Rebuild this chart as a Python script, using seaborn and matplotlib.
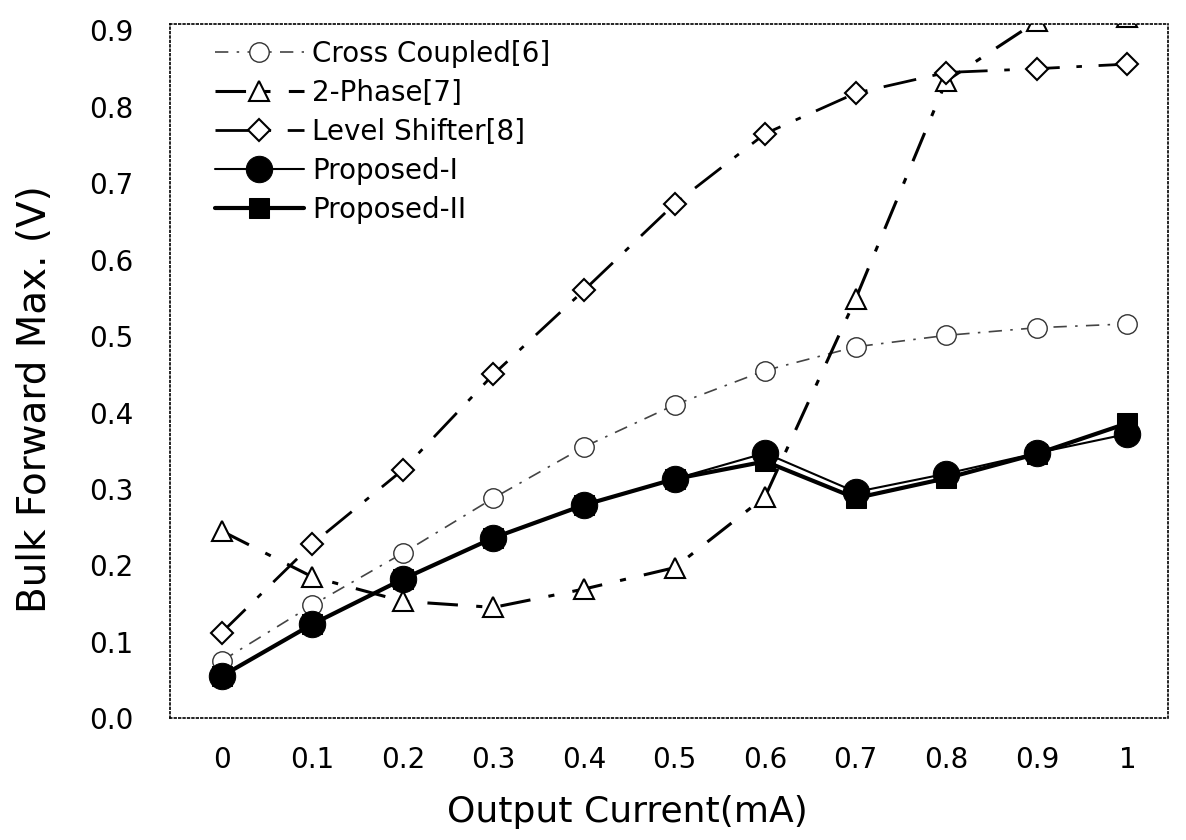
import numpy as np
import pandas as pd
import matplotlib
matplotlib.use("Agg")
import matplotlib.pyplot as plt
import seaborn as sns

# values
current = [0, 0.1, 0.2, 0.3, 0.4, 0.5, 0.6, 0.7, 0.8, 0.9, 1.0]
tick_labels = ["0", "0.1", "0.2", "0.3", "0.4", "0.5", "0.6", "0.7", "0.8", "0.9", "1"]
cross_coupled = [0.075, 0.148, 0.216, 0.288, 0.355, 0.41, 0.455, 0.486, 0.501, 0.511, 0.516]
two_phase = [0.245, 0.185, 0.153, 0.145, 0.169, 0.197, 0.29, 0.549, 0.834, 0.912, 0.918]
level_shifter = [0.112, 0.228, 0.325, 0.45, 0.56, 0.673, 0.765, 0.818, 0.845, 0.85, 0.856]
proposed_1 = [0.055, 0.123, 0.182, 0.236, 0.279, 0.313, 0.347, 0.296, 0.32, 0.347, 0.372]
proposed_2 = [0.055, 0.123, 0.182, 0.236, 0.279, 0.313, 0.336, 0.288, 0.314, 0.346, 0.386]

df = pd.DataFrame({
    "current": current * 5,
    "value": cross_coupled + two_phase + level_shifter + proposed_1 + proposed_2,
    "series": (["Cross Coupled[6]"] * 11 + ["2-Phase[7]"] * 11 + ["Level Shifter[8]"] * 11
               + ["Proposed-I"] * 11 + ["Proposed-II"] * 11),
})

sns.set_style("white")
plt.rcParams["font.family"] = ["DejaVu Sans"]
for k in ["text.color", "axes.labelcolor", "xtick.color", "ytick.color"]:
    plt.rcParams[k] = "black"

fig = plt.figure(figsize=(11.86, 8.40), dpi=100)
ax = fig.add_axes([0.143, 0.145, 0.842, 0.826])

# marker / line look for each series
styles = {
    "Cross Coupled[6]": dict(marker="o", ms=14, mfc="white", mec="#333333", mew=1.0,
                             color="#444444", lw=1.2, ls=(0, (8, 5, 1.5, 5))),
    "2-Phase[7]": dict(marker="^", ms=14, mfc="white", mec="black", mew=1.5,
                       color="black", lw=2.2, ls=(0, (10, 6, 2, 6))),
    "Level Shifter[8]": dict(marker="D", ms=11, mfc="white", mec="black", mew=1.5,
                             color="black", lw=2.0, ls=(0, (12, 6, 2, 6))),
    "Proposed-I": dict(marker="o", ms=19, mfc="black", mec="black",
                       color="black", lw=1.5, ls="-"),
    "Proposed-II": dict(marker="s", ms=14, mfc="black", mec="black",
                        color="black", lw=3.0, ls="-"),
}

for name, st in styles.items():
    sub = df[df["series"] == name]
    sns.lineplot(data=sub, x="current", y="value", ax=ax, label=name, **st)

ax.set_xlim(-0.0575, 1.045)
ax.set_ylim(0, 0.908)
ax.set_xticks(current)
ax.set_xticklabels(tick_labels)
ax.set_yticks(np.arange(0, 0.95, 0.1))
ax.set_yticklabels([f"{v:.1f}" for v in np.arange(0, 0.95, 0.1)])
ax.tick_params(axis="x", labelsize=20, length=0, pad=20)
ax.tick_params(axis="y", labelsize=20, length=0, pad=26)
ax.set_xlabel("Output Current(mA)", fontsize=26, va="center")
ax.set_ylabel("Bulk Forward Max. (V)", fontsize=28, va="center")
ax.xaxis.set_label_coords(0.458, -0.135)
ax.yaxis.set_label_coords(-0.135, 0.46)

# dotted frame like the scanned figure
for sp in ax.spines.values():
    sp.set_linestyle(":")
    sp.set_linewidth(1.2)
    sp.set_color("black")

ax.legend(loc="upper left", frameon=False, fontsize=20, handlelength=3.2,
          handletextpad=0.3, labelspacing=0.4, borderaxespad=0.15,
          bbox_to_anchor=(0.03, 1.0))

plt.savefig("out.png", dpi=100)
